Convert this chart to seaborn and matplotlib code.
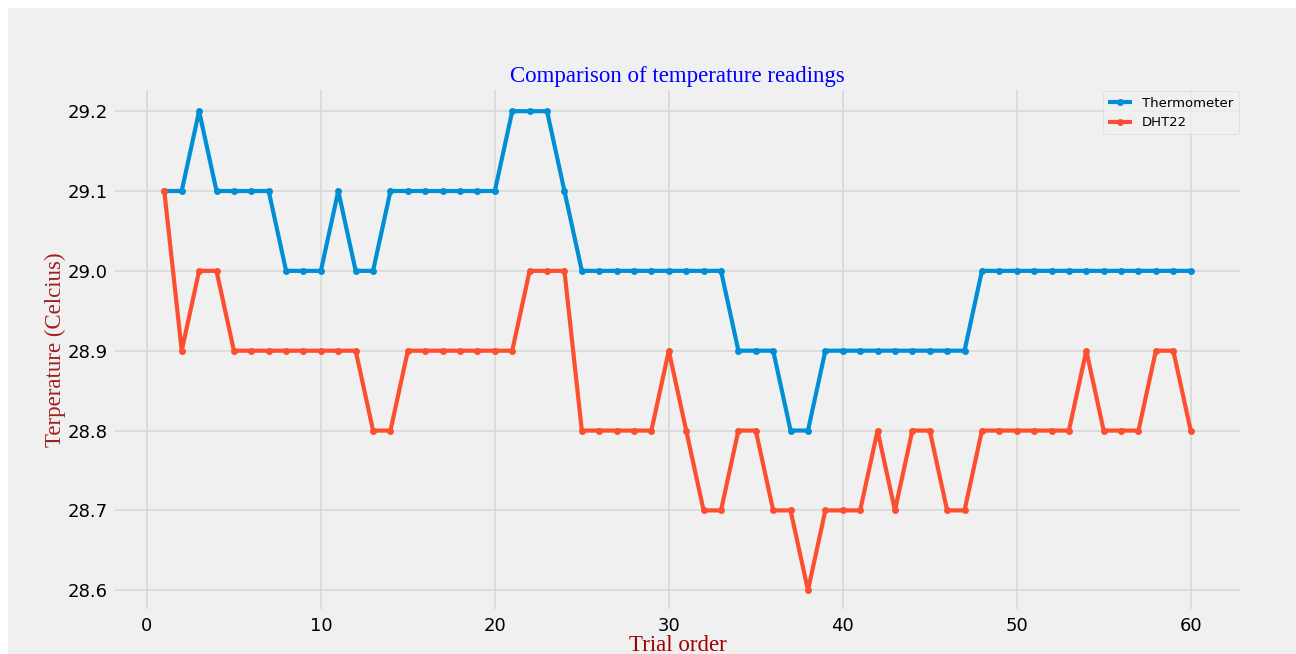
import matplotlib
matplotlib.use("Agg")
import matplotlib.pyplot as plt
import seaborn as sns
import pandas as pd
from matplotlib.patches import Rectangle

trials = list(range(1, 61))
thermometer = [29.1, 29.1, 29.2, 29.1, 29.1, 29.1, 29.1, 29.0, 29.0, 29.0,
               29.1, 29.0, 29.0, 29.1, 29.1, 29.1, 29.1, 29.1, 29.1, 29.1,
               29.2, 29.2, 29.2, 29.1, 29.0, 29.0, 29.0, 29.0, 29.0, 29.0,
               29.0, 29.0, 29.0, 28.9, 28.9, 28.9, 28.8, 28.8, 28.9, 28.9,
               28.9, 28.9, 28.9, 28.9, 28.9, 28.9, 28.9, 29.0, 29.0, 29.0,
               29.0, 29.0, 29.0, 29.0, 29.0, 29.0, 29.0, 29.0, 29.0, 29.0]
dht22 = [29.1, 28.9, 29.0, 29.0, 28.9, 28.9, 28.9, 28.9, 28.9, 28.9,
         28.9, 28.9, 28.8, 28.8, 28.9, 28.9, 28.9, 28.9, 28.9, 28.9,
         28.9, 29.0, 29.0, 29.0, 28.8, 28.8, 28.8, 28.8, 28.8, 28.9,
         28.8, 28.7, 28.7, 28.8, 28.8, 28.7, 28.7, 28.6, 28.7, 28.7,
         28.7, 28.8, 28.7, 28.8, 28.8, 28.7, 28.7, 28.8, 28.8, 28.8,
         28.8, 28.8, 28.8, 28.9, 28.8, 28.8, 28.8, 28.9, 28.9, 28.8]
series_names = ["Thermometer", "DHT22"]
colors = ["#008fd5", "#fc4f30"]

df = pd.DataFrame({
    "trial": trials * 2,
    "temp": thermometer + dht22,
    "sensor": [series_names[0]] * len(trials) + [series_names[1]] * len(trials),
})

plt.style.use("fivethirtyeight")
fig = plt.figure(figsize=(12.96, 6.54), dpi=100, facecolor="white")
# grey panel (original screenshot has a thin white border left/top)
fig.patches.append(Rectangle((8 / 1296, 0), 1 - 8 / 1296, 1 - 8 / 654,
                             transform=fig.transFigure, facecolor="#f0f0f0",
                             edgecolor="none", zorder=-10))
ax = fig.add_axes([113 / 1296, 1 - 611 / 654, (1242 - 113) / 1296, (611 - 88) / 654])
ax.set_facecolor("#f0f0f0")

sns.lineplot(data=df, x="trial", y="temp", hue="sensor", hue_order=series_names,
             palette=colors, marker="o", markersize=5, markeredgewidth=0,
             linewidth=3, ax=ax)

ax.set_title("Comparison of temperature readings", family="Liberation Serif",
             fontsize=16.5, color="blue", pad=4)
ax.set_xlabel("Trial order", family="Liberation Serif", fontsize=16.5,
              color="#a00000", labelpad=0)
ax.set_ylabel("Terperature (Celcius)", family="Liberation Serif", fontsize=16.5,
              color="#a02020", labelpad=1)
ax.set_xticks([0, 10, 20, 30, 40, 50, 60])
ax.set_yticks([28.6, 28.7, 28.8, 28.9, 29.0, 29.1, 29.2])
ax.set_ylim(28.574, 29.229)
ax.tick_params(labelsize=13, length=0, pad=4)
ax.grid(True, color="#d8d8d8", linewidth=1.2)

handles, labels = ax.get_legend_handles_labels()
leg = ax.legend(handles, labels, loc="upper right", fontsize=9.5,
                frameon=True, fancybox=True, framealpha=0.8,
                facecolor="#f0f0f0", edgecolor="#d8d8d8",
                borderaxespad=0.25, handlelength=1.8)

fig.savefig("out.png", dpi=100, facecolor=fig.get_facecolor())
